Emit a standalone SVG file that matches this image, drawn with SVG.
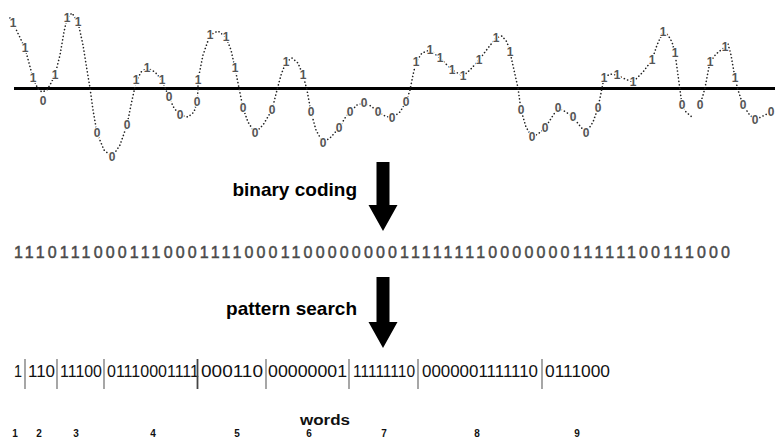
<svg xmlns="http://www.w3.org/2000/svg" width="775" height="438" viewBox="0 0 775 438">
<style>
.wave{fill:none;stroke:#222;stroke-width:1.6;stroke-dasharray:0.1 3.4;stroke-linecap:round;stroke-linejoin:round}
.d{font-family:"Liberation Sans",Arial,sans-serif;font-size:12px;font-weight:bold;fill:#555;text-anchor:middle;paint-order:stroke;stroke:#fff;stroke-width:2px}
.step{font-family:"Liberation Sans",Arial,sans-serif;font-size:19px;font-weight:bold;fill:#000;text-anchor:end}
.bin{font-family:"Liberation Sans",Arial,sans-serif;font-size:16px;fill:#4a4a4a;stroke:#4a4a4a;stroke-width:0.45}
.w{font-family:"Liberation Sans",Arial,sans-serif;font-size:16px;fill:#111}
.sep{stroke:#777;stroke-width:1.3}
.n{font-family:"Liberation Sans",Arial,sans-serif;font-size:10px;font-weight:bold;fill:#111;text-anchor:middle}
.arrow{fill:#000}
</style>
<rect width="775" height="438" fill="#fff"/>
<g id="signal">
<line x1="14" y1="88.5" x2="775" y2="88.5" stroke="#000" stroke-width="3"/>
<polyline class="wave" points="10,18 13,23 25,48 33,78 38,89 42,92 47,90 51,83 55,75 60,55 64,32 67,18 72,13 78,22 83,45 87,70 90,88 93,110 97,133 104,150 112,157 120,145 127,125 131,105 136,82 141,72 147,68 155,72 162,80 166,90 169,97 174,108 180,115 188,117 194,112 197,102 198,90 198,80 203,55 210,35 218,31 226,37 231,50 235,68 239,88 243,108 248,122 255,133 263,125 272,110 277,90 281,75 286,62 292,58 298,63 303,75 307,90 311,112 316,130 323,143 331,137 339,128 345,118 350,112 357,105 364,103 371,106 378,112 385,116 392,118 400,112 406,102 410,90 413,75 416,62 422,53 430,50 440,58 452,70 463,76 470,70 479,60 488,48 496,38 502,36 507,42 510,52 514,70 518,88 521,110 526,127 532,137 538,134 545,128 552,117 558,108 566,112 573,117 580,126 586,133 593,122 598,108 601,93 604,78 610,74 617,75 625,79 633,82 643,72 652,60 657,45 663,32 668,35 672,42 675,53 678,75 680,90 682,105 686,112 692,117"/>
<polyline class="wave" points="700,105 703,95 705,88 708,72 710,62 716,54 725,47 728,44 731,55 735,78 738,90 743,105 749,114 755,120 763,116 771,112"/>
<g id="wave-digits">
<text class="d" x="13" y="27">1</text><text class="d" x="25" y="52">1</text><text class="d" x="33" y="82">1</text><text class="d" x="43" y="105">0</text><text class="d" x="55" y="79">1</text><text class="d" x="67" y="22">1</text><text class="d" x="78" y="26">1</text><text class="d" x="97" y="137">0</text><text class="d" x="112" y="161">0</text><text class="d" x="127" y="129">0</text><text class="d" x="136" y="84">1</text><text class="d" x="147" y="72">1</text><text class="d" x="162" y="84">1</text><text class="d" x="169" y="101">0</text><text class="d" x="180" y="119">0</text><text class="d" x="197" y="106">0</text><text class="d" x="198" y="84">1</text><text class="d" x="210" y="39">1</text><text class="d" x="226" y="41">1</text><text class="d" x="235" y="72">1</text><text class="d" x="243" y="112">0</text><text class="d" x="255" y="137">0</text><text class="d" x="272" y="114">0</text><text class="d" x="286" y="66">1</text><text class="d" x="303" y="79">1</text><text class="d" x="311" y="116">0</text><text class="d" x="323" y="147">0</text><text class="d" x="339" y="132">0</text><text class="d" x="350" y="116">0</text><text class="d" x="364" y="107">0</text><text class="d" x="378" y="116">0</text><text class="d" x="392" y="122">0</text><text class="d" x="406" y="106">0</text><text class="d" x="416" y="66">1</text><text class="d" x="430" y="54">1</text><text class="d" x="440" y="62">1</text><text class="d" x="452" y="74">1</text><text class="d" x="463" y="80">1</text><text class="d" x="479" y="64">1</text><text class="d" x="496" y="42">1</text><text class="d" x="510" y="56">1</text><text class="d" x="521" y="114">0</text><text class="d" x="532" y="141">0</text><text class="d" x="545" y="132">0</text><text class="d" x="558" y="112">0</text><text class="d" x="573" y="121">0</text><text class="d" x="586" y="137">0</text><text class="d" x="598" y="112">0</text><text class="d" x="604" y="82">1</text><text class="d" x="617" y="79">1</text><text class="d" x="633" y="86">1</text><text class="d" x="652" y="64">1</text><text class="d" x="663" y="36">1</text><text class="d" x="675" y="57">1</text><text class="d" x="682" y="109">0</text><text class="d" x="700" y="109">0</text><text class="d" x="710" y="66">1</text><text class="d" x="725" y="51">1</text><text class="d" x="735" y="82">1</text><text class="d" x="743" y="109">0</text><text class="d" x="755" y="124">0</text><text class="d" x="771" y="116">0</text>
</g>
</g>
<g id="step-binary-coding"><text class="step" x="357" y="196">binary coding</text></g>
<g id="binary-string"><text class="bin" x="14" y="258" textLength="716" lengthAdjust="spacing">11101110001110001111000110000000011111111000000011111100111000</text></g>
<g id="step-pattern-search"><text class="step" x="357" y="315">pattern search</text></g>
<g id="words-line">
<text class="w" x="14" y="377" textLength="8" lengthAdjust="spacingAndGlyphs">1</text>
<text class="w" x="28" y="377" textLength="27" lengthAdjust="spacingAndGlyphs">110</text>
<text class="w" x="60" y="377" textLength="42" lengthAdjust="spacingAndGlyphs">11100</text>
<text class="w" x="107" y="377" textLength="92" lengthAdjust="spacingAndGlyphs">01110001111</text>
<text class="w" x="201" y="377" textLength="62" lengthAdjust="spacingAndGlyphs">000110</text>
<text class="w" x="268" y="377" textLength="79" lengthAdjust="spacingAndGlyphs">00000001</text>
<text class="w" x="353" y="377" textLength="62" lengthAdjust="spacingAndGlyphs">11111110</text>
<text class="w" x="422" y="377" textLength="116" lengthAdjust="spacingAndGlyphs">0000001111110</text>
<text class="w" x="545" y="377" textLength="65" lengthAdjust="spacingAndGlyphs">0111000</text>
<line class="sep" x1="25" y1="359" x2="25" y2="389"/>
<line class="sep" x1="57" y1="359" x2="57" y2="389"/>
<line class="sep" x1="104" y1="359" x2="104" y2="389"/>
<line class="sep" x1="197.5" y1="359" x2="197.5" y2="389" style="stroke:#444;stroke-width:1.8"/>
<line class="sep" x1="266" y1="359" x2="266" y2="389"/>
<line class="sep" x1="349" y1="359" x2="349" y2="389"/>
<line class="sep" x1="418" y1="359" x2="418" y2="389"/>
<line class="sep" x1="542" y1="359" x2="542" y2="389"/>
</g>
<g id="words-label"><text x="300" y="425" textLength="50" lengthAdjust="spacingAndGlyphs" style="font-family:'Liberation Sans',Arial,sans-serif;font-size:14px;font-weight:bold;fill:#111">words</text></g>
<g id="word-numbers">
<text class="n" x="15" y="437">1</text><text class="n" x="39" y="437">2</text><text class="n" x="76" y="437">3</text><text class="n" x="153" y="437">4</text><text class="n" x="237" y="437">5</text><text class="n" x="309" y="437">6</text><text class="n" x="384" y="437">7</text><text class="n" x="477" y="437">8</text><text class="n" x="577" y="437">9</text>
</g>
<g id="connectors">
<polygon class="arrow" points="376.5,162 389.5,162 389.5,205 397.5,205 383,231 368.5,205 376.5,205"/>
<polygon class="arrow" points="376.5,277 389.5,277 389.5,322 397.5,322 383,348 368.5,322 376.5,322"/>
</g>
</svg>
